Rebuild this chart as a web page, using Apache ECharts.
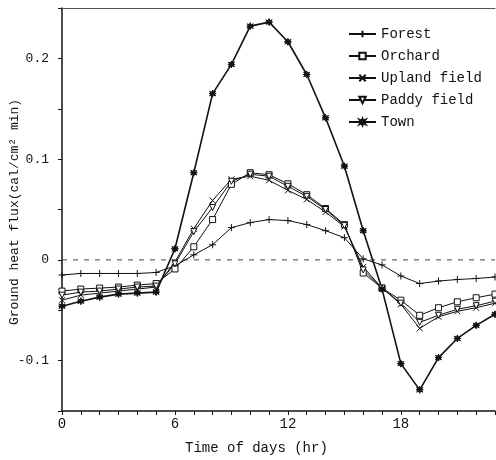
<!DOCTYPE html>
<html>
<head>
<meta charset="utf-8">
<script src="https://cdn.jsdelivr.net/npm/echarts@6/dist/echarts.min.js"></script>
<style>html,body{margin:0;padding:0;background:#fff}#c{width:496px;height:460px}</style>
</head>
<body>
<div id="c"></div>
<script>
var hours = [0,1,2,3,4,5,6,7,8,9,10,11,12,13,14,15,16,17,18,19,20,21,22,23];
var xTickLabels = [0, 6, 12, 18];
var yTickLabels = [-0.1, 0, 0.1, 0.2];
var forest = [-0.015,-0.0135,-0.0135,-0.0135,-0.0135,-0.0125,-0.006,0.005,0.015,0.032,0.037,0.040,0.039,0.035,0.029,0.022,0.001,-0.005,-0.016,-0.0235,-0.021,-0.0195,-0.0185,-0.017];
var orchard = [-0.031,-0.029,-0.028,-0.027,-0.025,-0.0235,-0.009,0.013,0.040,0.075,0.0865,0.0845,0.0755,0.0647,0.051,0.035,-0.013,-0.028,-0.040,-0.055,-0.0475,-0.0416,-0.0376,-0.034];
var upland = [-0.040,-0.035,-0.033,-0.031,-0.029,-0.027,-0.002,0.031,0.059,0.080,0.083,0.079,0.069,0.060,0.0475,0.033,-0.007,-0.028,-0.044,-0.068,-0.0565,-0.051,-0.0475,-0.043];
var paddy = [-0.035,-0.032,-0.031,-0.029,-0.027,-0.026,-0.004,0.028,0.052,0.078,0.085,0.083,0.073,0.063,0.050,0.034,-0.010,-0.028,-0.043,-0.062,-0.055,-0.049,-0.0455,-0.041];
var town = [-0.046,-0.041,-0.037,-0.034,-0.033,-0.032,0.011,0.0865,0.165,0.194,0.232,0.236,0.2165,0.184,0.141,0.093,0.029,-0.029,-0.103,-0.129,-0.097,-0.078,-0.065,-0.054];
var seriesNames = ['Forest','Orchard','Upland field','Paddy field','Town'];

var FONT = '"Liberation Mono", "DejaVu Sans Mono", monospace';
var plusPath = 'path://M5,0L5,10M0,5L10,5';
var crossPath = 'path://M0,0L10,10M10,0L0,10';
var starPath = 'path://M5,0L6.2,3.1L9.3,1.7L7.4,4.4L10,5L7.4,5.6L9.3,8.3L6.2,6.9L5,10L3.8,6.9L0.7,8.3L2.6,5.6L0,5L2.6,4.4L0.7,1.7L3.8,3.1Z';

function pairs(arr){ return arr.map(function(v,i){ return [hours[i], v]; }); }

function mk(name, data, symbol, size, lw, fill, rotate){
  return {
    name: name, type: 'line', data: pairs(data),
    symbol: symbol, symbolSize: size, symbolRotate: rotate || 0,
    showSymbol: true, clip: false,
    lineStyle: {color: '#111', width: lw},
    itemStyle: {color: fill, borderColor: '#111', borderWidth: 1},
    emphasis: {disabled: true},
    z: 3
  };
}

var chart = echarts.init(document.getElementById('c'), null, {renderer: 'canvas'});
chart.setOption({
  animation: false,
  backgroundColor: '#fff',
  grid: {left: 62, right: 1, top: 8, bottom: 49, show: false, containLabel: false, outerBoundsMode: 'none'},
  legend: {
    left: 343, top: 22, orient: 'vertical', itemGap: 8, itemWidth: 27, itemHeight: 8,
    textStyle: {fontFamily: FONT, fontSize: 14, color: '#111'},
    data: seriesNames
  },
  xAxis: [{
    type: 'value', min: 0, max: 23, interval: 1,
    axisLine: {show: true, onZero: false, lineStyle: {color: '#111', width: 1.5}},
    axisTick: {show: true, length: 4, lineStyle: {color: '#111'}},
    axisLabel: {
      margin: 6, fontFamily: FONT, fontSize: 14, color: '#111',
      formatter: function(v){ return xTickLabels.indexOf(Math.round(v)) >= 0 ? String(Math.round(v)) : ''; }
    },
    splitLine: {show: false}
  }, {
    type: 'value', min: 0, max: 23, position: 'top',
    axisLine: {show: true, onZero: false, lineStyle: {color: '#555', width: 1}},
    axisTick: {show: false}, axisLabel: {show: false}, splitLine: {show: false}
  }],
  yAxis: {
    type: 'value', min: -0.15, max: 0.25, interval: 0.05,
    axisLine: {show: true, onZero: false, lineStyle: {color: '#111', width: 1.5}},
    axisTick: {show: true, length: 4, lineStyle: {color: '#111'}},
    axisLabel: {
      margin: 13, fontFamily: FONT, fontSize: 13, color: '#111',
      formatter: function(v){
        var r = Math.round(v * 100) / 100;
        for (var i = 0; i < yTickLabels.length; i++) { if (Math.abs(yTickLabels[i] - r) < 1e-6) return String(yTickLabels[i]); }
        return '';
      }
    },
    splitLine: {show: false}
  },
  graphic: [{
    type: 'text', left: 185, top: 441,
    style: {text: 'Time of days (hr)', font: '14px ' + FONT, fill: '#111'}
  }, {
    type: 'text', x: 15, y: 212, rotation: Math.PI / 2,
    style: {text: 'Ground heat flux(cal/cm² min)', font: '13px ' + FONT, fill: '#111', align: 'center', verticalAlign: 'middle'}
  }],
  series: [
    mk('Forest', forest, plusPath, 7, 1, 'none'),
    mk('Orchard', orchard, 'rect', 6, 1, '#fff'),
    mk('Upland field', upland, crossPath, 6, 1, 'none'),
    mk('Paddy field', paddy, 'triangle', 6, 1, '#fff', 180),
    mk('Town', town, starPath, 7, 1.6, '#111'),
    {
      type: 'line', data: [[0,0],[23,0]], symbol: 'none', silent: true,
      lineStyle: {color: '#444', width: 1, type: [5, 6]}, z: 1
    }
  ]
});
</script>
</body>
</html>
